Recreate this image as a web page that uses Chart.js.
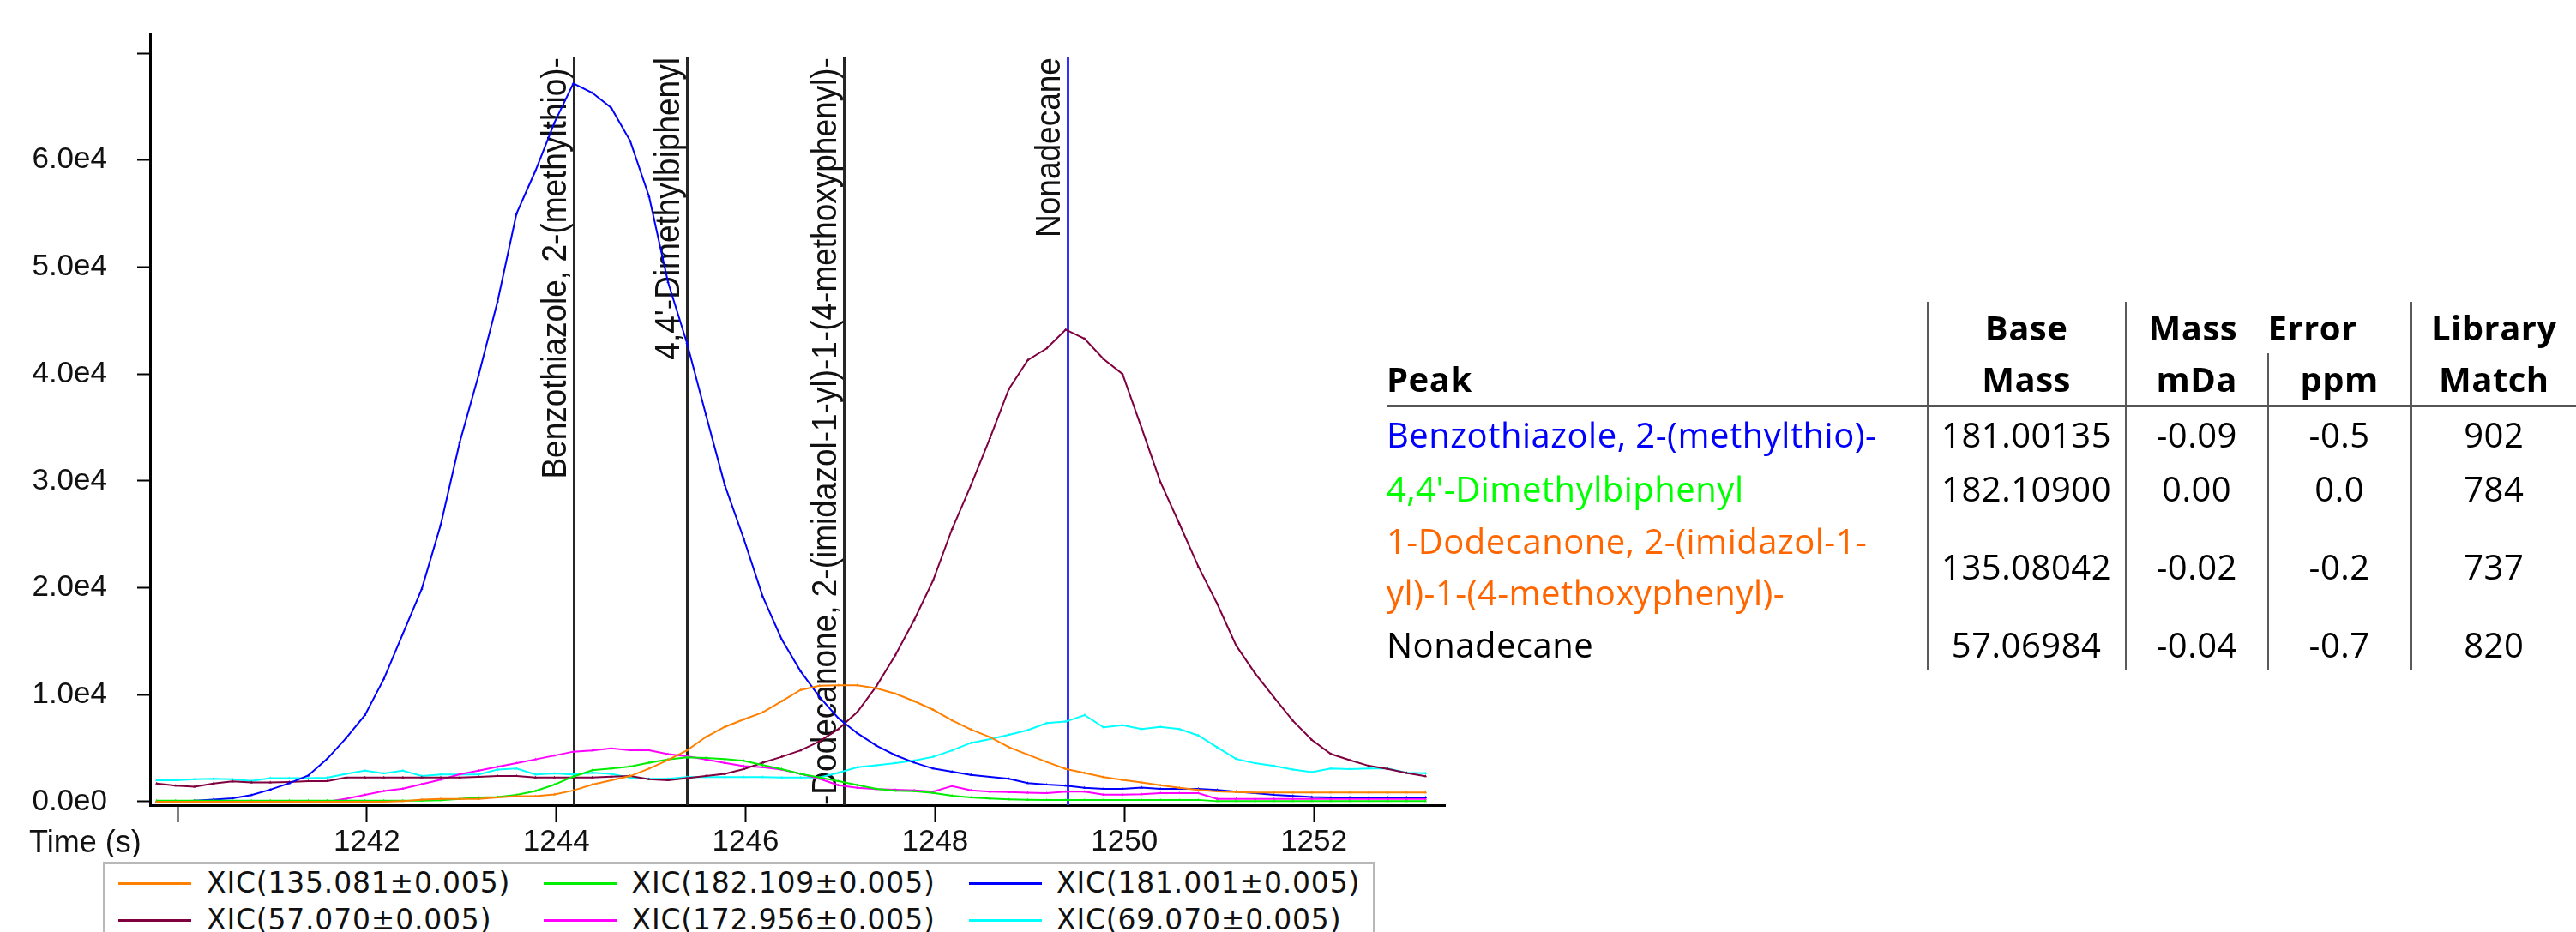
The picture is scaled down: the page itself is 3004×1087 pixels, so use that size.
<!DOCTYPE html>
<html lang="en">
<head>
    <meta charset="UTF-8">
    <title>XIC chromatogram with peak table</title>
    <script src="https://cdn.jsdelivr.net/npm/chart.js"></script>
    <style>
        html, body { margin: 0; padding: 0; background: #fff; }
        body { width: 3004px; height: 1087px; overflow: hidden; position: relative; }
        #chartBox { position: absolute; left: 0; top: 0; width: 1700px; height: 1000px; }
        #legend { position: absolute; left: 120px; top: 1005px; width: 1478px; height: 120px; border: 3px solid #b8b8b8; }
        .lgLine { position: absolute; width: 85px; height: 3px; }
        .lgText { position: absolute; font: 33px "DejaVu Sans", sans-serif; letter-spacing: 0.8px; color: #111; line-height: 40px; white-space: nowrap; }
        #peakTable { position: absolute; left: 1617px; top: 352px; border-collapse: collapse; table-layout: fixed;
                     font-family: "Open Sans", sans-serif; font-size: 40px; letter-spacing: 0.5px; color: #000; }
        #peakTable td { padding: 0; vertical-align: middle; white-space: pre; line-height: 60px; }
        #peakTable .c { text-align: center; }
        #peakTable .vl { border-left: 2px solid #5a5a5a; }
        #peakTable .h { font-weight: 700; }
        #peakTable tr.rule td { border-bottom: 3px solid #555; }
    </style>
</head>
<body>
    <div id="chartBox"><canvas id="xicChart"></canvas></div>
    <div id="legend"></div>
    <table id="peakTable"></table>

    <script>
        // retention time of each scan (s)
        const times = [
            1239.78, 1239.98, 1240.18, 1240.38, 1240.58, 1240.78, 1240.98, 1241.18, 1241.38, 1241.58,
            1241.78, 1241.98, 1242.18, 1242.38, 1242.58, 1242.78, 1242.98, 1243.18, 1243.38, 1243.58,
            1243.78, 1243.98, 1244.18, 1244.38, 1244.58, 1244.78, 1244.98, 1245.18, 1245.38, 1245.58,
            1245.78, 1245.98, 1246.18, 1246.38, 1246.58, 1246.78, 1246.98, 1247.18, 1247.38, 1247.58,
            1247.78, 1247.98, 1248.18, 1248.38, 1248.58, 1248.78, 1248.98, 1249.18, 1249.38, 1249.58,
            1249.78, 1249.98, 1250.18, 1250.38, 1250.58, 1250.78, 1250.98, 1251.18, 1251.38, 1251.58,
            1251.78, 1251.98, 1252.18, 1252.38, 1252.58, 1252.78, 1252.98, 1253.18
        ];

        // XIC intensities
        const xic135 = [
            0, 0, 0, 0, 0, 0, 0, 0, 0, 0,
            0, 0, 0, 50, 200, 270, 270, 270, 400, 530,
            530, 680, 1050, 1600, 2000, 2400, 3100, 3900, 4800, 6050,
            7000, 7700, 8350, 9400, 10450, 10850, 10880, 10880, 10600, 10100,
            9400, 8600, 7600, 6750, 6050, 5100, 4400, 3720, 3070, 2680,
            2300, 2050, 1800, 1550, 1300, 1100, 970, 900, 860, 860,
            860, 860, 860, 860, 860, 860, 860, 860
        ];
        const xic182 = [
            100, 100, 100, 100, 100, 100, 100, 100, 100, 100,
            100, 100, 100, 100, 100, 150, 270, 400, 450, 650,
            1000, 1600, 2350, 2950, 3100, 3280, 3640, 3950, 4140, 4080,
            3980, 3820, 3430, 3050, 2610, 2260, 1920, 1570, 1210, 1030,
            980, 830, 560, 400, 300, 230, 190, 170, 170, 170,
            170, 170, 170, 170, 170, 170, 50, 50, 50, 50,
            50, 50, 50, 50, 50, 50, 50, 50
        ];
        const xic181 = [
            0, 0, 100, 200, 330, 620, 1130, 1730, 2450, 4000,
            5950, 8100, 11500, 15700, 19900, 25900, 33600, 39900, 46800, 55000,
            59000, 63500, 67170, 66300, 64900, 61800, 56600, 48600, 42900, 36200,
            29600, 24600, 19200, 15200, 12200, 9800, 7800, 6400, 5250, 4350,
            3660, 3100, 2800, 2500, 2330, 2150, 1740, 1600, 1500, 1300,
            1200, 1200, 1330, 1200, 1200, 1200, 1100, 950, 800, 650,
            550, 450, 400, 400, 400, 400, 400, 400
        ];
        const xic57 = [
            1700, 1500, 1400, 1700, 1900, 1800, 1800, 1850, 1920, 1920,
            2270, 2270, 2270, 2270, 2270, 2270, 2270, 2330, 2400, 2400,
            2270, 2270, 2270, 2270, 2350, 2400, 2100, 2000, 2200, 2400,
            2600, 3050, 3650, 4200, 4800, 5650, 6800, 8400, 10800, 13700,
            17000, 20700, 25500, 29600, 34000, 38600, 41300, 42400, 44150, 43300,
            41400, 40000, 35000, 29900, 26000, 22000, 18500, 14600, 12000, 9750,
            7570, 5770, 4470, 3890, 3360, 3060, 2690, 2380
        ];
        const xic172 = [
            0, 0, 0, 0, 0, 0, 0, 0, 0, 0,
            280, 640, 1000, 1220, 1650, 2070, 2560, 2900, 3270, 3610,
            3960, 4320, 4680, 4800, 5000, 4810, 4810, 4450, 4250, 3950,
            3620, 3320, 3230, 3000, 2600, 2150, 1550, 1300, 1180, 1120,
            1070, 940, 1470, 1070, 940, 900, 850, 800, 940, 940,
            670, 670, 700, 800, 800, 800, 270, 270, 270, 270,
            270, 270, 270, 270, 270, 270, 270, 270
        ];
        const xic69 = [
            2000, 2000, 2100, 2140, 2100, 1950, 2200, 2200, 2200, 2250,
            2600, 2900, 2650, 2900, 2400, 2540, 2540, 2540, 3000, 3100,
            2540, 2650, 2540, 2700, 2600, 2250, 2140, 2140, 2300, 2300,
            2300, 2300, 2300, 2270, 2270, 2270, 2700, 3230, 3400, 3600,
            3850, 4200, 4800, 5500, 5850, 6250, 6700, 7350, 7490, 8100,
            6950, 7150, 6800, 7000, 6800, 6200, 5080, 4000, 3600, 3340,
            3000, 2760, 3100, 3050, 3100, 3100, 2700, 2670
        ];

        const seriesLabels = ['XIC(135.081±0.005)', 'XIC(182.109±0.005)', 'XIC(181.001±0.005)',
                              'XIC(57.070±0.005)', 'XIC(172.956±0.005)', 'XIC(69.070±0.005)'];
        const seriesColors = ['#ff8000', '#00ee00', '#0000ff', '#80003f', '#ff00ff', '#00ffff'];
        const seriesData = [xic135, xic182, xic181, xic57, xic172, xic69];

        const xTickValues = [1240, 1242, 1244, 1246, 1248, 1250, 1252];
        const yTickValues = [0, 10000, 20000, 30000, 40000, 50000, 60000, 70000];

        // identified peaks (vertical markers)
        const markerTimes = [1244.184, 1245.379, 1247.037, 1249.40];
        const markerNames = ['Benzothiazole, 2-(methylthio)-', "4,4'-Dimethylbiphenyl",
                             '1-Dodecanone, 2-(imidazol-1-yl)-1-(4-methoxyphenyl)-', 'Nonadecane'];
        const markerColors = ['#262626', '#262626', '#262626', '#3030ff'];
        const markerTop = 69600;

        // peak table
        const peakNames = ['Benzothiazole, 2-(methylthio)-', "4,4'-Dimethylbiphenyl",
                           '1-Dodecanone, 2-(imidazol-1-\nyl)-1-(4-methoxyphenyl)-', 'Nonadecane'];
        const peakColors = ['#0000ff', '#00ff00', '#ff6600', '#000000'];
        const baseMass = ['181.00135', '182.10900', '135.08042', '57.06984'];
        const errMDa = ['-0.09', '0.00', '-0.02', '-0.04'];
        const errPpm = ['-0.5', '0.0', '-0.2', '-0.7'];
        const libMatch = ['902', '784', '737', '820'];

        const labelFont = '"Liberation Sans", Arial, sans-serif';

        const markerPlugin = {
            id: 'markers',
            beforeDatasetsDraw(chart) {
                const { ctx, chartArea, scales: { x, y } } = chart;
                ctx.save();
                ctx.beginPath();
                ctx.rect(chartArea.left, chartArea.top, chartArea.right - chartArea.left, chartArea.bottom - chartArea.top);
                ctx.clip();
                markerTimes.forEach((t, i) => {
                    const px = Math.round(x.getPixelForValue(t)) + 0.5;
                    const top = y.getPixelForValue(markerTop);
                    ctx.strokeStyle = markerColors[i];
                    ctx.lineWidth = 3;
                    ctx.beginPath();
                    ctx.moveTo(px, top);
                    ctx.lineTo(px, chartArea.bottom);
                    ctx.stroke();

                    ctx.save();
                    ctx.translate(px - 10, top);
                    ctx.rotate(-Math.PI / 2);
                    ctx.scale(0.925, 1);
                    ctx.font = '40px ' + labelFont;
                    ctx.fillStyle = '#111';
                    ctx.textAlign = 'right';
                    ctx.textBaseline = 'alphabetic';
                    ctx.fillText(markerNames[i], 0, 0);
                    ctx.restore();
                });
                ctx.restore();
            },
            afterDraw(chart) {
                const ctx = chart.ctx;
                ctx.save();
                ctx.font = '36px ' + labelFont;
                ctx.fillStyle = '#111';
                ctx.textAlign = 'left';
                ctx.textBaseline = 'middle';
                ctx.fillText('Time (s)', 34, 984);
                ctx.restore();
            }
        };

        const ctx = document.getElementById('xicChart').getContext('2d');
        new Chart(ctx, {
            type: 'line',
            data: {
                datasets: seriesData.map((vals, i) => ({
                    label: seriesLabels[i],
                    data: vals.map((v, k) => ({ x: times[k], y: v })),
                    borderColor: seriesColors[i],
                    backgroundColor: seriesColors[i],
                    borderWidth: 2,
                    pointStyle: 'triangle',
                    pointRadius: 2,
                    pointBorderWidth: 0,
                    tension: 0,
                    fill: false
                }))
            },
            options: {
                responsive: true,
                maintainAspectRatio: false,
                animation: false,
                layout: { padding: { top: 39, right: 15, left: 0, bottom: 0 } },
                plugins: { legend: { display: false }, tooltip: { enabled: false } },
                scales: {
                    x: {
                        type: 'linear',
                        min: 1239.71,
                        max: 1253.385,
                        afterBuildTicks: s => { s.ticks = xTickValues.map(v => ({ value: v })); },
                        afterFit: s => { s.height = 61; s.paddingLeft = 0; s.paddingRight = 0; },
                        ticks: {
                            autoSkip: false, maxRotation: 0, padding: 2, color: '#111',
                            font: { family: labelFont, size: 35 },
                            callback: v => (v === 1240 ? '' : String(v))
                        },
                        grid: { drawOnChartArea: false, drawTicks: true, tickLength: 20, tickWidth: 2, tickColor: '#000' },
                        border: { display: true, color: '#000', width: 3 }
                    },
                    y: {
                        min: -321,
                        max: 71852,
                        afterBuildTicks: s => { s.ticks = yTickValues.map(v => ({ value: v })); },
                        afterFit: s => { s.width = 175; s.paddingTop = 0; s.paddingBottom = 0; },
                        ticks: {
                            padding: 35, color: '#111',
                            font: { family: labelFont, size: 35 },
                            callback: v => (v === 70000 ? '' : v === 0 ? '0.0e0' : (v / 10000).toFixed(1) + 'e4')
                        },
                        grid: { drawOnChartArea: false, drawTicks: true, tickLength: 15, tickWidth: 2, tickColor: '#000' },
                        border: { display: true, color: '#000', width: 3 }
                    }
                }
            },
            plugins: [markerPlugin]
        });

        // legend: three columns, two rows
        const legend = document.getElementById('legend');
        seriesLabels.forEach((lab, i) => {
            const col = i % 3, row = Math.floor(i / 3);
            const rowY = 1030 + 43 * row - 1008;   // relative to the box content
            const line = document.createElement('div');
            line.className = 'lgLine';
            line.style.left = (138 + 496 * col - 123) + 'px';
            line.style.top = (rowY - 1.5) + 'px';
            line.style.background = seriesColors[i];
            legend.appendChild(line);
            const txt = document.createElement('div');
            txt.className = 'lgText';
            txt.style.left = (241 + 495.5 * col - 123) + 'px';
            txt.style.top = (rowY - 20) + 'px';
            txt.textContent = lab;
            legend.appendChild(txt);
        });

        // peak table
        const table = document.getElementById('peakTable');
        let html = '<colgroup><col style="width:638px"><col style="width:235px"><col style="width:170px">' +
                   '<col style="width:171px"><col style="width:198px"></colgroup>';
        html += '<tr style="height:60px"><td></td><td class="c vl h">Base</td>' +
                '<td class="h vl" colspan="2" style="padding-left:26px"><span style="display:inline-block;width:139px">Mass</span>Error</td>' +
                '<td class="c vl h">Library</td></tr>';
        html += '<tr class="rule" style="height:60px"><td class="h">Peak</td><td class="c vl h">Mass</td>' +
                '<td class="c vl h">mDa</td><td class="c vl h">ppm</td><td class="c vl h">Match</td></tr>';
        const rowHeights = [66, 60, 122, 60];
        peakNames.forEach((name, i) => {
            html += '<tr style="height:' + rowHeights[i] + 'px">' +
                    '<td style="color:' + peakColors[i] + '">' + name + '</td>' +
                    '<td class="c vl">' + baseMass[i] + '</td>' +
                    '<td class="c vl">' + errMDa[i] + '</td>' +
                    '<td class="c vl">' + errPpm[i] + '</td>' +
                    '<td class="c vl">' + libMatch[i] + '</td></tr>';
        });
        table.innerHTML = html;
    </script>
</body>
</html>
